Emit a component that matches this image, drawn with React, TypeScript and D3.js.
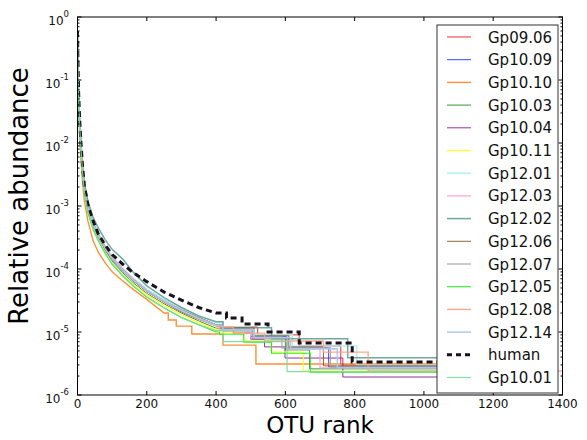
import React from "react";
import * as d3 from "d3";

const W = 587;
const H = 440;

const xTicks = [0, 200, 400, 600, 800, 1000, 1200, 1400];
const yExps = [0, -1, -2, -3, -4, -5, -6];

// OTU ranks at which the head of each curve is read
const headRanks = [0, 1, 3, 6, 10, 15, 20, 30, 45, 60, 80, 100, 130, 160, 200, 250, 300, 350, 400];

// Head values (relative abundance at headRanks) and tail steps [rank, new level]
const gp0906Head = [0.45, 0.17, 0.058, 0.021, 8.8e-3, 3.6e-3, 1.9e-3, 9.6e-4, 5.1e-4, 3.4e-4, 2.1e-4, 1.45e-4, 9.6e-5, 6.8e-5, 4.5e-5, 3.0e-5, 2.2e-5, 1.7e-5, 1.3e-5];
const gp0906Tail = [[410, 1.2e-5], [520, 9e-6], [640, 6e-6], [760, 3e-6], [1150, 3e-6]];

const gp1009Head = [0.5, 0.17, 0.055, 0.019, 8e-3, 3.3e-3, 1.8e-3, 9e-4, 4.9e-4, 3.3e-4, 2.05e-4, 1.4e-4, 9.3e-5, 6.5e-5, 4.4e-5, 3.0e-5, 2.1e-5, 1.6e-5, 1.25e-5];
const gp1009Tail = [[420, 1.12e-5], [500, 8.4e-6], [604, 5.6e-6], [725, 2.8e-6], [1120, 2.8e-6]];

const gp1010Head = [0.45, 0.15, 0.045, 0.014, 5.5e-3, 2.2e-3, 1.2e-3, 5.8e-4, 2.8e-4, 1.85e-4, 1.25e-4, 9e-5, 6.5e-5, 4.8e-5, 3.3e-5, 2.0e-5];
const gp1010Tail = [[262, 1.55e-5], [285, 1.24e-5], [330, 9.3e-6], [420, 6.2e-6], [515, 3.1e-6], [1100, 3.1e-6]];

const gp1003Head = [0.55, 0.19, 0.06, 0.02, 8e-3, 3.3e-3, 1.75e-3, 8.6e-4, 4.6e-4, 3.1e-4, 1.95e-4, 1.33e-4, 8.8e-5, 6.1e-5, 4.1e-5, 2.8e-5, 2.0e-5, 1.5e-5, 1.15e-5];
const gp1003Tail = [[420, 1.04e-5], [505, 7.8e-6], [600, 5.2e-6], [670, 2.6e-6], [1150, 2.6e-6]];

const gp1004Head = [0.5, 0.17, 0.057, 0.019, 8.2e-3, 3.4e-3, 1.85e-3, 9.2e-4, 5.0e-4, 3.35e-4, 2.1e-4, 1.42e-4, 9.4e-5, 6.6e-5, 4.4e-5, 3.0e-5, 2.1e-5, 1.6e-5, 1.3e-5];
const gp1004Tail = [[410, 1.16e-5], [450, 9.65e-6], [500, 7.7e-6], [540, 5.8e-6], [599, 3.86e-6], [766, 1.93e-6], [1200, 1.93e-6]];

const gp1011Head = [0.5, 0.17, 0.055, 0.018, 7.5e-3, 3.0e-3, 1.6e-3, 8.0e-4, 4.4e-4, 2.95e-4, 1.85e-4, 1.25e-4, 8.3e-5, 5.8e-5, 3.9e-5, 2.65e-5, 1.9e-5, 1.4e-5, 1.1e-5];
const gp1011Tail = [[410, 9.6e-6], [480, 7.2e-6], [560, 4.8e-6], [652, 2.4e-6], [1150, 2.4e-6]];

const gp1201Head = [0.55, 0.2, 0.065, 0.022, 9e-3, 3.8e-3, 2.0e-3, 1.0e-3, 5.5e-4, 3.7e-4, 2.3e-4, 1.55e-4, 1.03e-4, 7.2e-5, 4.8e-5, 3.3e-5, 2.35e-5, 1.8e-5, 1.4e-5];
const gp1201Tail = [[420, 1.2e-5], [500, 9e-6], [620, 6e-6], [806, 3e-6], [1150, 3e-6]];

const gp1203Head = [0.55, 0.21, 0.07, 0.025, 1.0e-2, 4.2e-3, 2.2e-3, 1.05e-3, 5.6e-4, 3.7e-4, 2.3e-4, 1.55e-4, 1.02e-4, 7.0e-5, 4.6e-5, 3.1e-5, 2.2e-5, 1.65e-5, 1.3e-5];
const gp1203Tail = [[410, 1.08e-5], [500, 8.1e-6], [605, 5.4e-6], [700, 2.7e-6], [1150, 2.7e-6]];

const gp1202Head = [0.6, 0.22, 0.07, 0.024, 1.0e-2, 4.3e-3, 2.3e-3, 1.2e-3, 6.6e-4, 4.5e-4, 2.9e-4, 2.05e-4, 1.45e-4, 9.0e-5, 5.4e-5, 3.5e-5, 2.45e-5, 1.8e-5, 1.45e-5];
const gp1202Tail = [[420, 1.17e-5], [560, 7.8e-6], [780, 3.9e-6], [1100, 3.9e-6]];

const gp1206Head = [0.5, 0.18, 0.06, 0.02, 8.5e-3, 3.5e-3, 1.9e-3, 9.5e-4, 5.2e-4, 3.5e-4, 2.2e-4, 1.48e-4, 9.8e-5, 6.9e-5, 4.6e-5, 3.1e-5, 2.25e-5, 1.7e-5, 1.3e-5];
const gp1206Tail = [[420, 1.16e-5], [510, 8.7e-6], [610, 5.8e-6], [710, 2.9e-6], [1150, 2.9e-6]];

const gp1207Head = [0.5, 0.19, 0.062, 0.021, 8.7e-3, 3.6e-3, 1.95e-3, 9.7e-4, 5.3e-4, 3.55e-4, 2.2e-4, 1.5e-4, 9.9e-5, 6.9e-5, 4.6e-5, 3.1e-5, 2.25e-5, 1.7e-5, 1.3e-5];
const gp1207Tail = [[415, 1.12e-5], [505, 8.4e-6], [590, 5.6e-6], [730, 2.8e-6], [1150, 2.8e-6]];

const gp1205Head = [0.5, 0.17, 0.055, 0.018, 7.3e-3, 3.0e-3, 1.6e-3, 7.8e-4, 4.2e-4, 2.8e-4, 1.75e-4, 1.18e-4, 7.8e-5, 5.4e-5, 3.6e-5, 2.4e-5, 1.7e-5, 1.3e-5, 1.0e-5];
const gp1205Tail = [[410, 9.2e-6], [480, 6.9e-6], [560, 4.6e-6], [672, 2.3e-6], [1150, 2.3e-6]];

const gp1208Head = [0.5, 0.18, 0.06, 0.02, 8.5e-3, 3.5e-3, 1.9e-3, 9.4e-4, 5.1e-4, 3.4e-4, 2.15e-4, 1.45e-4, 9.6e-5, 6.7e-5, 4.5e-5, 3.0e-5, 2.15e-5, 1.6e-5, 1.25e-5];
const gp1208Tail = [[410, 1.2e-5], [450, 9.6e-6], [540, 7.2e-6], [710, 4.8e-6], [839, 2.4e-6], [1400, 2.4e-6]];

const gp1214Head = [0.5, 0.18, 0.06, 0.02, 8.4e-3, 3.45e-3, 1.85e-3, 9.3e-4, 5.1e-4, 3.4e-4, 2.15e-4, 1.46e-4, 9.7e-5, 6.8e-5, 4.55e-5, 3.1e-5, 2.2e-5, 1.65e-5, 1.28e-5];
const gp1214Tail = [[420, 1.08e-5], [510, 8.1e-6], [615, 5.4e-6], [750, 2.7e-6], [1150, 2.7e-6]];

const humanHead = [0.6, 0.25, 0.07, 0.025, 0.01, 4e-3, 2.1e-3, 1.05e-3, 5.8e-4, 3.6e-4, 2.4e-4, 1.7e-4, 1.2e-4, 8.8e-5, 6.3e-5, 4.3e-5, 3.2e-5, 2.45e-5, 2.0e-5];
const humanTail = [[430, 1.67e-5], [475, 1.34e-5], [550, 1.0e-5], [640, 6.7e-6], [793, 3.34e-6], [1250, 3.34e-6]];

const gp1001Head = [0.55, 0.19, 0.06, 0.02, 8e-3, 3.2e-3, 1.7e-3, 8.3e-4, 4.4e-4, 2.9e-4, 1.8e-4, 1.2e-4, 8e-5, 5.5e-5, 3.6e-5, 2.4e-5, 1.7e-5, 1.3e-5, 1.05e-5];
const gp1001Tail = [[420, 7.05e-6], [605, 2.35e-6], [1150, 2.35e-6]];

const seriesNames = ["Gp09.06", "Gp10.09", "Gp10.10", "Gp10.03", "Gp10.04", "Gp10.11", "Gp12.01", "Gp12.03", "Gp12.02", "Gp12.06", "Gp12.07", "Gp12.05", "Gp12.08", "Gp12.14", "human", "Gp10.01"];
const seriesColors = ["#e81818", "#2233ff", "#ff8420", "#228b22", "#8e1a8e", "#ffff22", "#aef0f0", "#ff9fc8", "#5fa090", "#84582a", "#a0a0a0", "#11ee11", "#ffa080", "#a8c8ea", "#1a1020", "#77dd99"];
const seriesWidths = [1, 1, 1.4, 1, 1, 1.3, 1.6, 1.3, 1.5, 1, 1.2, 1.1, 1.4, 1.6, 3, 1.2];
const seriesHeads = [gp0906Head, gp1009Head, gp1010Head, gp1003Head, gp1004Head, gp1011Head, gp1201Head, gp1203Head, gp1202Head, gp1206Head, gp1207Head, gp1205Head, gp1208Head, gp1214Head, humanHead, gp1001Head];
const seriesTails = [gp0906Tail, gp1009Tail, gp1010Tail, gp1003Tail, gp1004Tail, gp1011Tail, gp1201Tail, gp1203Tail, gp1202Tail, gp1206Tail, gp1207Tail, gp1205Tail, gp1208Tail, gp1214Tail, humanTail, gp1001Tail];

const L = 77.5, R = 562.5, T = 17, B = 395;

export default function App() {
  const x = d3.scaleLinear().domain([0, 1400]).range([L, R]);
  const y = d3.scaleLog().domain([1e-6, 1]).range([B, T]);

  const line = d3
    .line<[number, number]>()
    .x((d) => x(d[0]))
    .y((d) => y(d[1]));

  const paths = seriesNames.map((name, i) => {
    const head = seriesHeads[i];
    const pts: [number, number][] = head.map((v, j) => [headRanks[j], v]);
    let cur = head[head.length - 1];
    for (const [r, v] of seriesTails[i]) {
      pts.push([r, cur]);
      pts.push([r, v]);
      cur = v;
    }
    return line(pts) as string;
  });

  const minor: number[] = [];
  for (let e = -6; e < 0; e++) {
    for (let m = 2; m <= 9; m++) minor.push(m * Math.pow(10, e));
  }

  const legX = 437, legY = 25, legW = 121, legH = 368;
  const rowY0 = 37, rowStep = 22.7;
  const font = "DejaVu Sans, Liberation Sans, sans-serif";

  return (
    <svg
      width={W}
      height={H}
      style={{ position: "absolute", left: 0, top: 0, background: "#fff" }}
      fontFamily={font}
    >
      <rect x={0} y={0} width={W} height={H} fill="#fff" />
      <defs>
        <clipPath id="plot">
          <rect x={L} y={T} width={R - L} height={B - T} />
        </clipPath>
      </defs>
      <g clipPath="url(#plot)">
        {paths.map((d, i) => (
          <path
            key={seriesNames[i]}
            d={d}
            fill="none"
            stroke={seriesColors[i]}
            strokeWidth={seriesWidths[i]}
            strokeOpacity={seriesNames[i] === "human" ? 1 : 0.9}
            strokeDasharray={seriesNames[i] === "human" ? "6,4" : undefined}
          />
        ))}
      </g>
      {/* frame */}
      <rect x={L} y={T} width={R - L} height={B - T} fill="none" stroke="#000" strokeWidth={1} />
      {/* x ticks */}
      {xTicks.map((t) => (
        <g key={"x" + t}>
          <line x1={x(t)} x2={x(t)} y1={B} y2={B - 4} stroke="#000" />
          <line x1={x(t)} x2={x(t)} y1={T} y2={T + 4} stroke="#000" />
          <text x={x(t)} y={408} fontSize={12} textAnchor="middle" fill="#111">
            {t}
          </text>
        </g>
      ))}
      {/* y ticks */}
      {yExps.map((e) => {
        const yy = y(Math.pow(10, e));
        return (
          <g key={"y" + e}>
            <line x1={L} x2={L + 4} y1={yy} y2={yy} stroke="#000" />
            <line x1={R} x2={R - 4} y1={yy} y2={yy} stroke="#000" />
            <text x={69} y={yy + 8} fontSize={12} textAnchor="end" fill="#111">
              <tspan>10</tspan>
              <tspan dy={-8} fontSize={8.5}>{String(e)}</tspan>
            </text>
          </g>
        );
      })}
      {minor.map((v, i) => (
        <g key={"m" + i}>
          <line x1={L} x2={L + 2} y1={y(v)} y2={y(v)} stroke="#000" />
          <line x1={R} x2={R - 2} y1={y(v)} y2={y(v)} stroke="#000" />
        </g>
      ))}
      {/* axis labels */}
      <text x={(L + R) / 2} y={433} fontSize={23} textAnchor="middle" fill="#000">
        OTU rank
      </text>
      <text
        transform={`translate(28,196) rotate(-90)`}
        fontSize={26}
        textAnchor="middle"
        fill="#000"
      >
        Relative abundance
      </text>
      {/* legend */}
      <rect x={legX} y={legY} width={legW} height={legH} fill="#fff" stroke="#333" strokeWidth={1} />
      {seriesNames.map((name, i) => {
        const ry = rowY0 + i * rowStep;
        return (
          <g key={"l" + name}>
            <line
              x1={447}
              x2={471}
              y1={ry}
              y2={ry}
              stroke={seriesColors[i]}
              strokeWidth={seriesWidths[i]}
              strokeOpacity={name === "human" ? 1 : 0.9}
              strokeDasharray={name === "human" ? "5,4" : undefined}
            />
            <text x={488} y={ry + 5.5} fontSize={15} fill="#111">
              {name}
            </text>
          </g>
        );
      })}
    </svg>
  );
}
